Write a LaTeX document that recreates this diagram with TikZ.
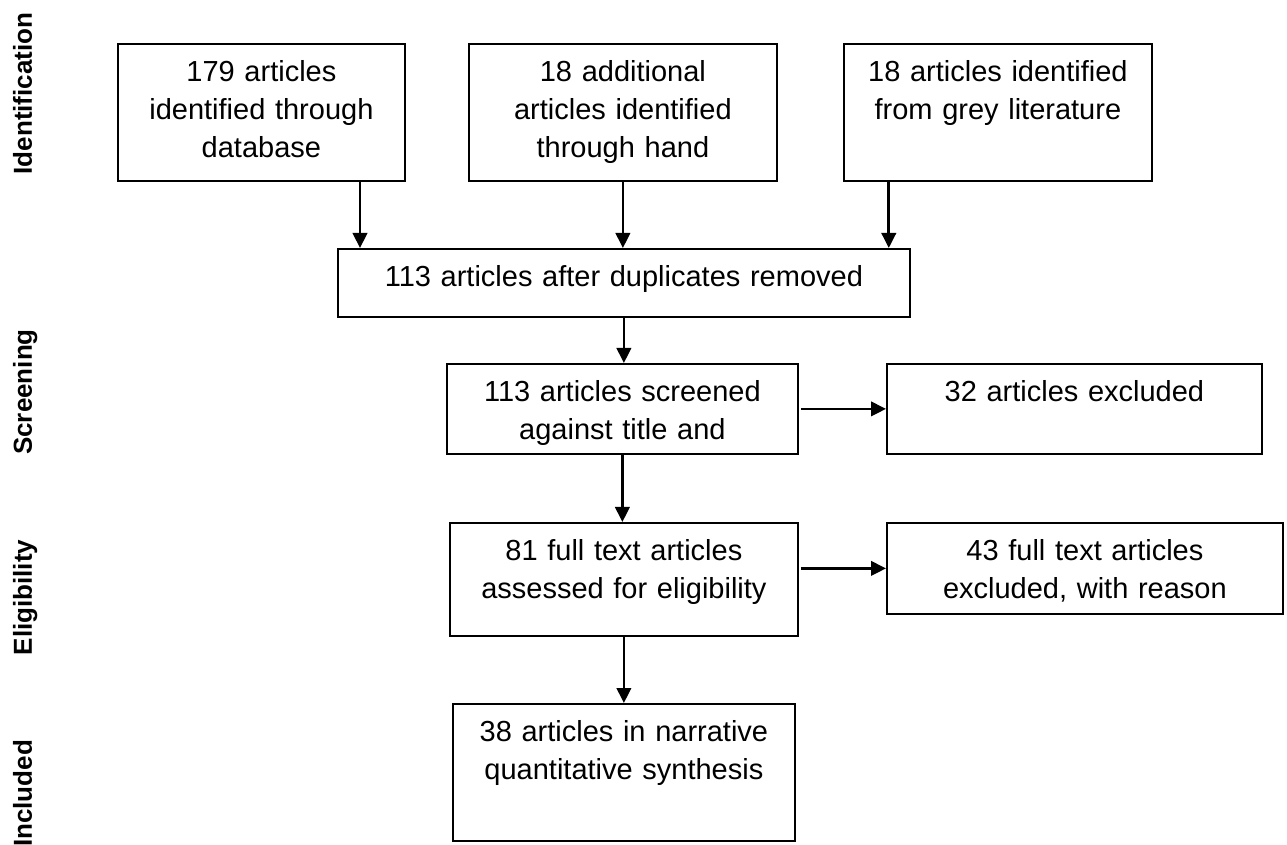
\documentclass[tikz,border=0pt]{standalone}
\usepackage{fontspec}
\setmainfont{Liberation Sans}
\usetikzlibrary{arrows.meta}

\begin{document}
\begin{tikzpicture}[
  x=0.5pt, y=-0.5pt,
  box/.style={draw=black, line width=0.9pt, anchor=north west, align=center,
    inner xsep=0pt, inner ysep=0pt, text height=19pt,
    font=\fontsize{14.5}{19}\selectfont},
  arr/.style={-{Triangle[length=7.5pt,width=7.2pt]}, line width=1.35pt},
  stage/.style={rotate=90, anchor=base, font=\fontsize{13}{15}\selectfont\bfseries}
]
\useasboundingbox (0,0) rectangle (1287,845);

% stage names down the left side:
\foreach \name/\y [count=\i] in {Identification/93.5, Screening/392, Eligibility/597.5, Included/793.5} {
  \node[stage] (stage\i) at (32,\y) {\name};
}

% sources
\node[box, text width=143.5pt, text depth=49.5pt] (dbase) at (117,43) {179 articles\\identified through\\database};
\node[box, text width=154pt, text depth=49.5pt] (hand) at (468,43) {18 additional\\articles identified\\through hand};
\node[box, text width=154pt, text depth=49.5pt] (grey) at (843,43) {18 articles identified\\from grey literature};

% main column
\node[box, text width=286pt, text depth=15pt] (dedup) at (337,248) {113 articles after duplicates removed};
\node[box, text width=175.5pt, text depth=26pt] (screen) at (446,363) {113 articles screened\\against title and};
\node[box, text width=174pt, text depth=37.5pt] (full) at (449,522) {81 full text articles\\assessed for eligibility};
\node[box, text width=171pt, text depth=49.5pt] (incl) at (452,703) {38 articles in narrative\\quantitative synthesis};

% exclusions
\node[box, text width=187.5pt, text depth=26pt] (excl) at (886,363) {32 articles excluded};
\node[box, text width=198pt, text depth=26.5pt] (fullexcl) at (886,522) {43 full text articles\\excluded, with reason};

% arrows into the duplicates box
\coordinate (inL) at ([xshift=11.5pt]dedup.north west);
\coordinate (inR) at ([xshift=-11pt]dedup.north east);
\draw[arr] (dbase.south -| inL) -- (inL);
\draw[arr] (hand.south) -- (hand.south |- dedup.north);
\draw[arr] (grey.south -| inR) -- (inR);

\foreach \a/\b in {dedup/screen, screen/full, full/incl} {
  \draw[arr] (\a.south) -- (\a.south |- \b.north);
}
\draw[arr] ([xshift=1pt]screen.east |- excl.west) -- (excl.west);
\draw[arr] ([xshift=1pt]full.east |- fullexcl.west) -- (fullexcl.west);

\end{tikzpicture}
\end{document}
